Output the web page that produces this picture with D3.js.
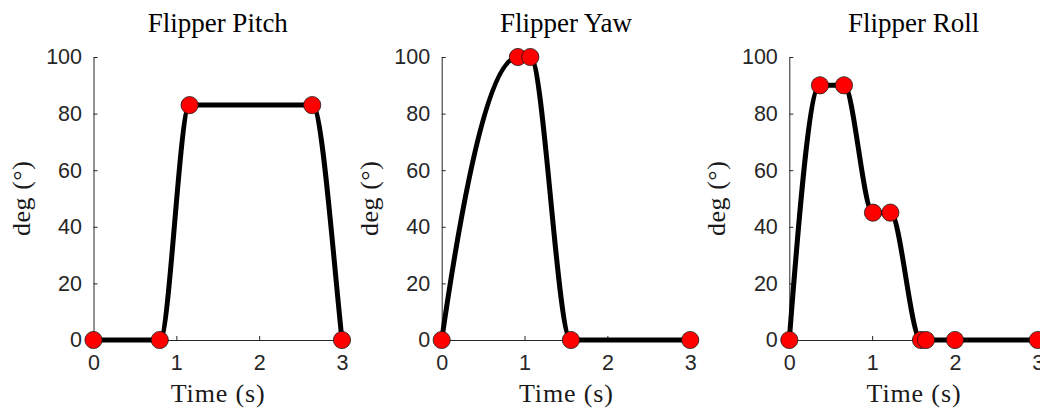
<!DOCTYPE html>
<html>
<head>
<meta charset="utf-8">
<script src="https://cdn.jsdelivr.net/npm/d3@7"></script>
<style>
  html, body { margin: 0; padding: 0; background: #fff; }
  svg { display: block; }
</style>
</head>
<body>
<div id="chart"></div>
<script>
// ---- Data ----
const panelTitles = ["Flipper Pitch", "Flipper Yaw", "Flipper Roll"];
const pitchTime = [0, 0.8, 1.16, 2.64, 3];
const pitchDeg  = [0, 0, 83, 83, 0];
const yawTime   = [0, 0.92, 1.07, 1.56, 3];
const yawDeg    = [0, 100, 100, 0, 0];
const rollTime  = [0, 0.37, 0.66, 1.01, 1.22, 1.59, 1.65, 2, 3];
const rollDeg   = [0, 90, 90, 45, 45, 0, 0, 0, 0];
const xTicks = [0, 1, 2, 3];
const yTicks = [0, 20, 40, 60, 80, 100];
const xLabel = "Time (s)";
const yLabel = "deg (°)";

const series = [
  { title: panelTitles[0], t: pitchTime, v: pitchDeg },
  { title: panelTitles[1], t: yawTime, v: yawDeg },
  { title: panelTitles[2], t: rollTime, v: rollDeg }
];

// ---- Shape-preserving piecewise cubic (pchip) curve for d3.line ----
function curvePchip(context) {
  let xs = [], ys = [];
  const sign = v => (v > 0 ? 1 : v < 0 ? -1 : 0);
  return {
    areaStart() {}, areaEnd() {},
    lineStart() { xs = []; ys = []; },
    point(x, y) { xs.push(+x); ys.push(+y); },
    lineEnd() {
      const n = xs.length;
      if (n === 0) return;
      context.moveTo(xs[0], ys[0]);
      if (n === 1) return;
      const h = [], del = [];
      for (let k = 0; k < n - 1; k++) {
        h.push(xs[k + 1] - xs[k]);
        del.push((ys[k + 1] - ys[k]) / h[k]);
      }
      const d = new Array(n).fill(0);
      if (n === 2) { d[0] = d[1] = del[0]; }
      else {
        for (let k = 1; k < n - 1; k++) {
          if (del[k - 1] * del[k] <= 0) d[k] = 0;
          else {
            const w1 = 2 * h[k] + h[k - 1], w2 = h[k] + 2 * h[k - 1];
            d[k] = (w1 + w2) / (w1 / del[k - 1] + w2 / del[k]);
          }
        }
        const endSlope = (h0, h1, d0, d1) => {
          let s = ((2 * h0 + h1) * d0 - h0 * d1) / (h0 + h1);
          if (sign(s) !== sign(d0)) s = 0;
          else if (sign(d0) !== sign(d1) && Math.abs(s) > Math.abs(3 * d0)) s = 3 * d0;
          return s;
        };
        d[0] = endSlope(h[0], h[1], del[0], del[1]);
        d[n - 1] = endSlope(h[n - 2], h[n - 3], del[n - 2], del[n - 3]);
      }
      for (let k = 0; k < n - 1; k++) {
        const hh = h[k] / 3;
        context.bezierCurveTo(xs[k] + hh, ys[k] + d[k] * hh,
                              xs[k + 1] - hh, ys[k + 1] - d[k + 1] * hh,
                              xs[k + 1], ys[k + 1]);
      }
    }
  };
}

// ---- Layout ----
const W = 1040, H = 411;
const axisLefts = [93.5, 441.7, 789.3];
const axisWidth = 248.5;
const yTop = 57, yBottom = 340;
const tickColor = "#262626";

const svg = d3.select("#chart").append("svg")
  .attr("width", W).attr("height", H)
  .style("background", "#fff");

series.forEach((s, i) => {
  const x0 = axisLefts[i];
  const x = d3.scaleLinear().domain([0, 3]).range([x0, x0 + axisWidth]);
  const y = d3.scaleLinear().domain([0, 100]).range([yBottom, yTop]);
  const g = svg.append("g");

  // y axis
  const yAx = g.append("g")
    .attr("transform", `translate(${x0},0)`)
    .call(d3.axisLeft(y).tickValues(yTicks).tickFormat(d3.format("d"))
      .tickSizeInner(-4).tickSizeOuter(0).tickPadding(11.5));
  // x axis
  const xAx = g.append("g")
    .attr("transform", `translate(0,${yBottom})`)
    .call(d3.axisBottom(x).tickValues(xTicks).tickFormat(d3.format("d"))
      .tickSizeInner(-4).tickSizeOuter(0).tickPadding(15));

  [yAx, xAx].forEach(ax => {
    ax.select(".domain").attr("stroke", tickColor).attr("stroke-width", 1);
    ax.selectAll(".tick line").attr("stroke", tickColor).attr("stroke-width", 1);
    ax.selectAll(".tick text")
      .attr("fill", tickColor)
      .style("font-family", "'Liberation Sans', Arial, sans-serif")
      .style("font-size", "21.5px");
  });

  // line
  const line = d3.line()
    .x((d, j) => x(s.t[j]))
    .y(d => y(d))
    .curve(curvePchip);
  g.append("path")
    .datum(s.v)
    .attr("d", line)
    .attr("fill", "none")
    .attr("stroke", "#000")
    .attr("stroke-width", 5)
    .attr("stroke-linejoin", "round");

  // markers
  g.selectAll("circle.pt")
    .data(s.v)
    .join("circle")
    .attr("class", "pt")
    .attr("cx", (d, j) => x(s.t[j]))
    .attr("cy", d => y(d))
    .attr("r", 8.6)
    .attr("fill", "#ff0000")
    .attr("stroke", "#1a1a1a")
    .attr("stroke-width", 0.8);

  // title
  g.append("text")
    .attr("x", x0 + axisWidth / 2)
    .attr("y", 32)
    .attr("text-anchor", "middle")
    .style("font-family", "'Liberation Serif', 'Times New Roman', serif")
    .style("font-size", "27px")
    .attr("fill", "#000")
    .text(s.title);

  // x label
  g.append("text")
    .attr("x", x0 + axisWidth / 2)
    .attr("y", 401.5)
    .attr("text-anchor", "middle")
    .style("font-family", "'Liberation Serif', 'Times New Roman', serif")
    .style("font-size", "26px")
    .attr("textLength", 94)
    .attr("lengthAdjust", "spacing")
    .attr("fill", "#1a1a1a")
    .text(xLabel);

  // y label
  g.append("text")
    .attr("transform", `translate(${x0 - 64},${(yTop + yBottom) / 2}) rotate(-90)`)
    .attr("text-anchor", "middle")
    .style("font-family", "'Liberation Serif', 'Times New Roman', serif")
    .style("font-size", "26px")
    .attr("textLength", 75)
    .attr("lengthAdjust", "spacing")
    .attr("fill", "#1a1a1a")
    .text(yLabel);
});
</script>
</body>
</html>
